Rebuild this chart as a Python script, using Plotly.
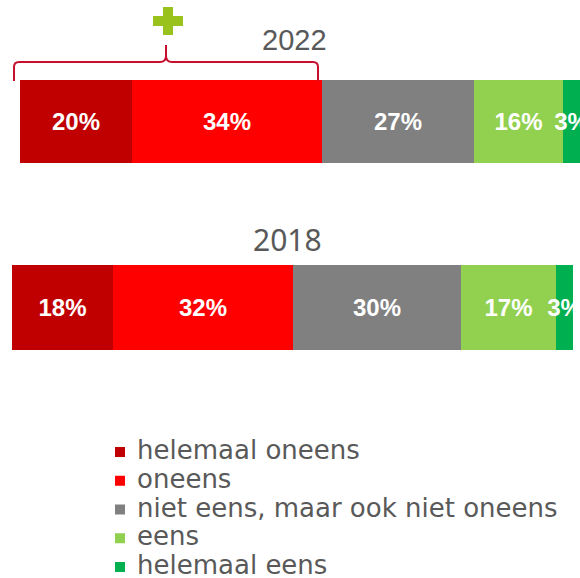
import plotly.graph_objects as go

W, H = 580, 578

categories = ["helemaal oneens", "oneens", "niet eens, maar ook niet oneens", "eens", "helemaal eens"]
colors = ["#c00000", "#ff0000", "#808080", "#92d050", "#00b050"]
values_2022 = [20, 34, 27, 16, 3]
values_2018 = [18, 32, 30, 17, 3]
years = ["2022", "2018"]


def px(x, y):
    """screen pixel -> paper coordinates"""
    return x / W, 1 - y / H


fig = go.Figure()

label_font = dict(family="Liberation Sans, Arial, sans-serif", size=24, color="white")

for name, col, v22, v18 in zip(categories, colors, values_2022, values_2018):
    for val, xa, ya, yr in [(v22, "x", "y", years[0]), (v18, "x2", "y2", years[1])]:
        fig.add_trace(go.Bar(
            x=[val], y=[yr], orientation="h", xaxis=xa, yaxis=ya, name=name,
            marker=dict(color=col, line=dict(width=0)),
            texttemplate="<b>%{x}%</b>", textposition="inside",
            insidetextanchor="middle", constraintext="none", textangle=0,
            textfont=label_font, showlegend=False, hoverinfo="skip",
            cliponaxis=False,
        ))

# brace above the 2022 disagreement segments
def P(x, y):
    a, b = px(x, y)
    return f"{a:.5f},{b:.5f}"

path = (f"M {P(14,81)} L {P(14,67)} Q {P(14,62)} {P(19,62)} "
        f"L {P(160,62)} Q {P(166,62)} {P(166,56)} L {P(166,45)} "
        f"M {P(166,56)} Q {P(166,62)} {P(172,62)} "
        f"L {P(313,62)} Q {P(318,62)} {P(318,67)} L {P(318,81)}")
shapes = [dict(type="path", xref="paper", yref="paper", path=path,
               line=dict(color="#c8102e", width=2))]

# green plus sign
plus_col = "#99c21c"
for (x0, y0, x1, y1) in [(153, 16, 183, 26), (163, 7, 173, 35)]:
    a0 = px(x0, y1)
    a1 = px(x1, y0)
    shapes.append(dict(type="rect", xref="paper", yref="paper",
                       x0=a0[0], y0=a0[1], x1=a1[0], y1=a1[1],
                       fillcolor=plus_col, line=dict(width=0)))

annotations = [
    dict(text=years[0], xref="paper", yref="paper", x=px(294, 0)[0], y=px(0, 40)[1],
         xanchor="center", yanchor="middle", showarrow=False,
         font=dict(family="Liberation Sans, Arial, sans-serif", size=29, color="#595959")),
    dict(text=years[1], xref="paper", yref="paper", x=px(287, 0)[0], y=px(0, 240)[1],
         xanchor="center", yanchor="middle", showarrow=False,
         font=dict(family="Noto Sans, sans-serif", size=30, color="#595959")),
]

# legend drawn from the category list
leg_font = dict(family="DejaVu Sans, Verdana, sans-serif", size=26, color="#595959")
for i, (name, col) in enumerate(zip(categories, colors)):
    cy = 452 + i * 28.75
    a0 = px(115, cy + 5)
    a1 = px(125, cy - 5)
    shapes.append(dict(type="rect", xref="paper", yref="paper",
                       x0=a0[0], y0=a0[1], x1=a1[0], y1=a1[1],
                       fillcolor=col, line=dict(width=0)))
    annotations.append(dict(text=name, xref="paper", yref="paper",
                            x=px(135, 0)[0], y=px(0, cy - 2)[1],
                            xanchor="left", yanchor="middle", showarrow=False,
                            font=leg_font))

fig.update_layout(
    width=W, height=H,
    margin=dict(l=0, r=0, t=0, b=0),
    paper_bgcolor="white", plot_bgcolor="white",
    barmode="stack", bargap=0,
    showlegend=False,
    xaxis=dict(domain=[px(20, 0)[0], 1], range=[0, 100], visible=False, fixedrange=True),
    yaxis=dict(domain=[px(0, 163)[1], px(0, 80)[1]], range=[-0.5, 0.5], visible=False, type="category"),
    xaxis2=dict(domain=[px(12, 0)[0], px(573, 0)[0]], range=[0, 100], visible=False, anchor="y2"),
    yaxis2=dict(domain=[px(0, 350)[1], px(0, 265)[1]], range=[-0.5, 0.5], visible=False,
                type="category", anchor="x2"),
    shapes=shapes,
    annotations=annotations,
)

# remove the default 8px page margin so the figure fills the window exactly
fig.write_html(
    "out.html",
    config={"displayModeBar": False},
    post_script="document.body.style.margin='0px';document.body.style.overflow='hidden';",
)
